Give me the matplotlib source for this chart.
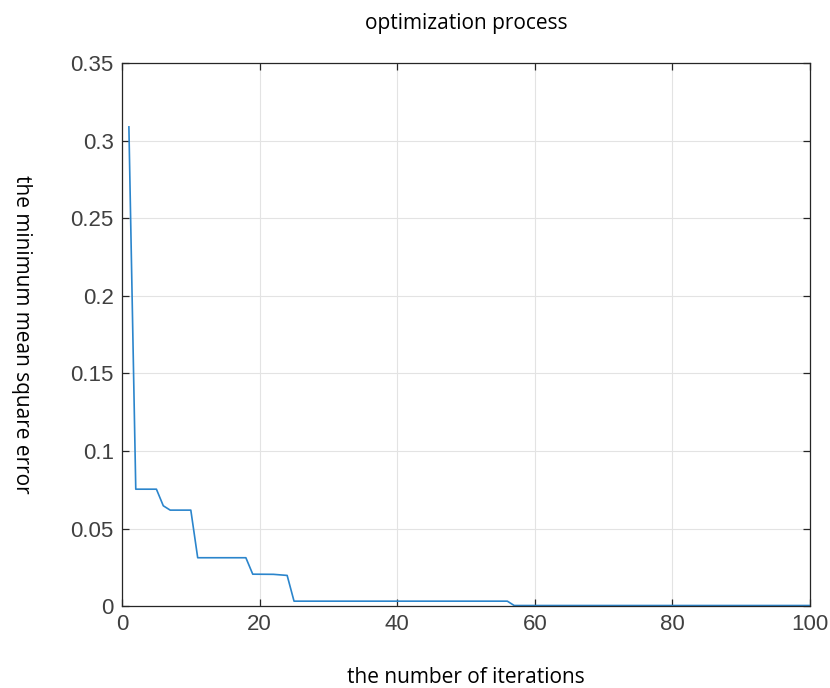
import matplotlib.pyplot as plt

# breakpoints of the convergence curve (iteration, best MSE)
iterations = [1, 2, 5, 6, 7, 10, 11, 18, 19, 22, 24, 25, 56, 57, 100]
mse = [0.309, 0.0754, 0.0754, 0.0647, 0.0619, 0.0619, 0.0312, 0.0312,
       0.0206, 0.0205, 0.0198, 0.0032, 0.0032, 0.0004, 0.0004]

x_ticks = [0, 20, 40, 60, 80, 100]
y_ticks = [0, 0.05, 0.1, 0.15, 0.2, 0.25, 0.3, 0.35]
y_tick_labels = ['0', '0.05', '0.1', '0.15', '0.2', '0.25', '0.3', '0.35']

fig = plt.figure(figsize=(8.3, 6.88), dpi=100)
ax = fig.add_axes([0.147, 0.119, 0.829, 0.789])

ax.plot(iterations, mse, color='#2b85cc', linewidth=1.2)

ax.set_xlim(0, 100)
ax.set_ylim(0, 0.35)
ax.set_xticks(x_ticks)
ax.set_yticks(y_ticks)
ax.set_yticklabels(y_tick_labels)
ax.grid(True, color='#e3e3e3', linewidth=0.8)
ax.set_axisbelow(True)

for s in ax.spines.values():
	s.set_color('#262626')
	s.set_linewidth(0.9)
ax.tick_params(direction='in', length=5, width=0.9, color='#262626',
	labelcolor='#404040', top=True, right=True, labelsize=16, pad=6)
for lab in ax.get_xticklabels() + ax.get_yticklabels():
	lab.set_fontfamily('Liberation Sans')

lbl_font = {'family': 'Open Sans', 'size': 15}
ax.set_title('optimization process', fontdict=lbl_font, pad=25)
ax.set_xlabel('the number of iterations', fontdict=lbl_font)
ax.xaxis.set_label_coords(0.5, -0.113)
ax.set_ylabel('the minimum mean square error', fontdict=lbl_font, rotation=-90)
ax.yaxis.set_label_coords(-0.161, 0.5)

fig.savefig('out.png', dpi=100)
